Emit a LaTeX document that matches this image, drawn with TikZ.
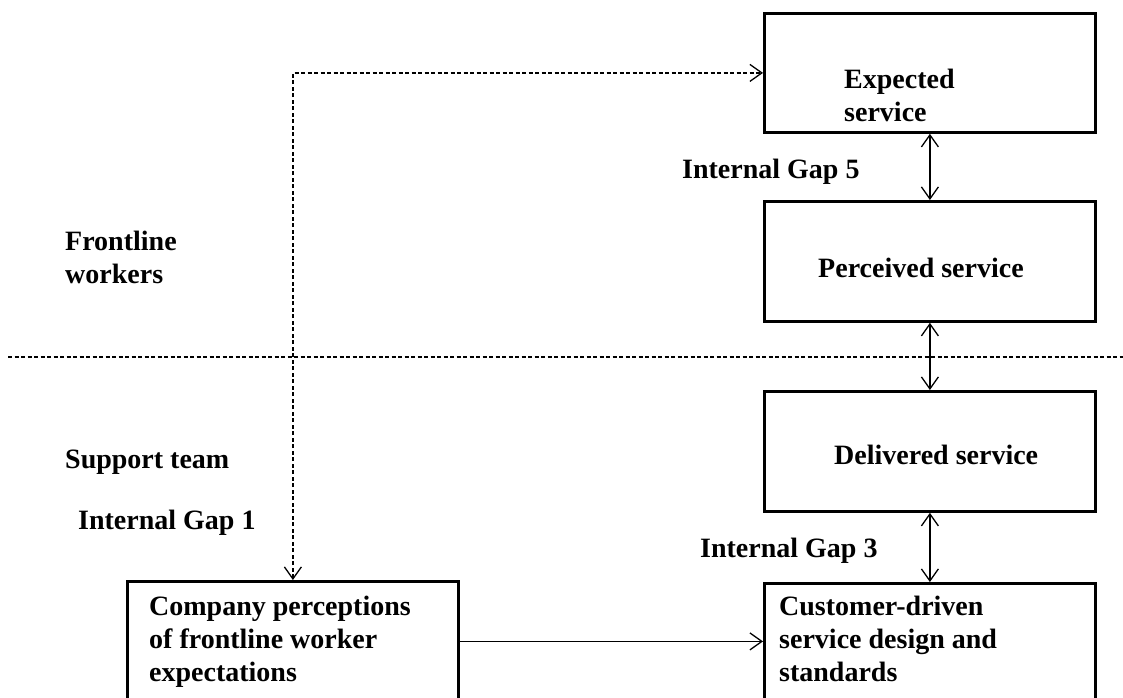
\documentclass[tikz,border=0pt]{standalone}
\usepackage{fontspec}
\setmainfont{Liberation Serif}
\usetikzlibrary{arrows.meta}
\begin{document}
\begin{tikzpicture}[x=1pt,y=-1pt,
  font=\fontsize{28}{33}\selectfont\bfseries,
  box/.style={draw, line width=2.8pt, minimum width=331pt, anchor=north west, inner sep=0pt},
  txt/.style={anchor=base west, align=left, inner sep=0pt},
  conn/.style={line width=1.3pt, arrows={Straight Barb[length=12pt,width=17pt,line width=1.3pt]-Straight Barb[length=12pt,width=17pt,line width=1.3pt]}},
  oneway/.style={line width=1.3pt, -{Straight Barb[length=12pt,width=17pt,line width=1.3pt]}},
  dashline/.style={line width=1.4pt, dash pattern=on 4pt off 2.5pt}]
\useasboundingbox (0,0) rectangle (1123,697);

% boxes
\node[box, minimum height=119pt] (exp) at (763,12) {};
\node[box, minimum height=120pt] (perc) at (763,200) {};
\node[box, minimum height=120pt] (deliv) at (763,390) {};
\node[box, minimum height=118pt] (cust) at (763,582) {};
\node[box, minimum height=120pt] (comp) at (126,580) {};

% box texts (multi-line nodes sit on the baseline of their last line)
\node[txt] (exptxt) at (844,121) {Expected\\service};
\node[txt] (perctxt) at (818,277) {Perceived service};
\node[txt] (delivtxt) at (834,464) {Delivered service};
\node[txt] (custtxt) at (779,681) {Customer-driven\\service design and\\standards};
\node[txt] (comptxt) at (149,681) {Company perceptions\\of frontline worker\\expectations};

% side labels
\node[txt] (front) at (65,283) {Frontline\\workers};
\node[txt] (support) at (65,468) {Support team};
\node[txt] (gap1) at (78,529) {Internal Gap 1};
\node[txt] (gap5) at (682,178) {Internal Gap 5};
\node[txt] (gap3) at (700,557) {Internal Gap 3};

% divider between frontline and support
\coordinate (divL) at (8,357);
\coordinate (divR) at (1123,357);
\draw[dashline] (divL) -- (divR);

% connectors
\draw[conn] (exp.south) -- (perc.north);
\draw[conn] (perc.south) -- (deliv.north);
\draw[conn] (deliv.south) -- (cust.north);
\draw[oneway] (comp.east) -- (comp.east -| cust.west);
\draw[dashline, arrows={Straight Barb[length=12pt,width=17pt,line width=1.3pt]-Straight Barb[length=12pt,width=17pt,line width=1.3pt]}] (comp.north) |- (exp.west);
\end{tikzpicture}
\end{document}
